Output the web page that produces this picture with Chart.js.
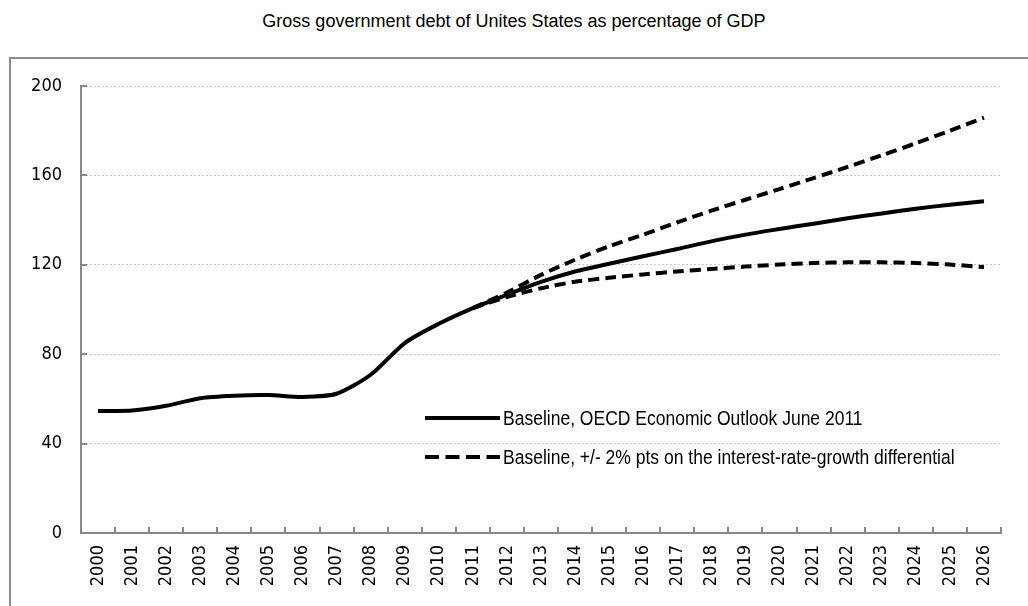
<!DOCTYPE html>
<html>
<head>
<meta charset="utf-8">
<script src="https://cdn.jsdelivr.net/npm/chart.js@4.4.0/dist/chart.umd.min.js"></script>
<style>
  html, body { margin: 0; padding: 0; background: #fff; }
  #page { position: relative; width: 1028px; height: 606px; overflow: hidden; }
  #title {
    position: absolute; left: 0; top: 11px; width: 1028px; text-align: center;
    font-family: "Liberation Sans", Arial, sans-serif; font-size: 18px; line-height: 21px; color: #000;
  }
  #frame {
    position: absolute; left: 9px; top: 57px; width: 1040px; height: 600px;
    border: 2px solid #8c8c8c;
  }
  #chart { position: absolute; left: 0; top: 0; }
  .legend-item {
    position: absolute; left: 424px; height: 24px;
    display: flex; align-items: center; white-space: nowrap;
    font-family: "Liberation Sans", Arial, sans-serif; font-size: 20px; color: #000;
  }
  .legend-item svg { margin-right: 2px; flex: none; }
  .legend-item span { display: inline-block; transform: scaleX(0.875); transform-origin: left center; }
</style>
</head>
<body>
<div id="page">
  <div id="title">Gross government debt of Unites States as percentage of GDP</div>
  <div id="frame"></div>
  <canvas id="chart" width="1028" height="606"></canvas>
  <div id="legend"></div>
</div>
<script>
// ─── DATA ─────────────────────────────────────────────────────
const years = ['2000','2001','2002','2003','2004','2005','2006','2007','2008','2009',
               '2010','2011','2012','2013','2014','2015','2016','2017','2018','2019',
               '2020','2021','2022','2023','2024','2025','2026'];

const baseline = [54.6, 54.8, 56.9, 60.3, 61.4, 61.7, 60.9, 62.3, 70.8, 85.0,
                  93.6, 100.6, 106.6, 112.4, 117.0, 120.5, 123.8, 127.1, 130.5, 133.5,
                  136.0, 138.4, 140.8, 143.0, 145.1, 146.9, 148.4];

const upper = [null, null, null, null, null, null, null, null, null, null,
               null, 100.6, 107.6, 115.5, 122.3, 128.3, 133.5, 139.0, 144.2, 149.1,
               153.9, 158.8, 163.8, 169.0, 174.4, 180.0, 185.8];

const lower = [null, null, null, null, null, null, null, null, null, null,
               null, 100.6, 105.6, 109.5, 112.4, 114.2, 115.7, 117.0, 118.1, 119.2,
               120.1, 120.8, 121.1, 121.1, 120.8, 120.1, 119.0];

const yTicks = [0, 40, 80, 120, 160, 200];

const legendLabels = ['Baseline, OECD Economic Outlook June 2011',
                      'Baseline, +/- 2% pts on the interest-rate-growth differential'];

// ─── LEGEND (html) ────────────────────────────────────────────
const legendTops = [406, 445];
const legendDash = [null, '14 6.5'];
document.getElementById('legend').innerHTML = legendLabels.map((txt, i) => `
  <div class="legend-item" style="top:${legendTops[i]}px">
    <svg width="77" height="8"><line x1="1" y1="4" x2="76" y2="4" stroke="#000" stroke-width="4"
      ${legendDash[i] ? `stroke-dasharray="${legendDash[i]}"` : ''}/></svg><span>${txt}</span>
  </div>`).join('');

// ─── INNER TICK MARKS ─────────────────────────────────────────
const innerTicks = {
  id: 'innerTicks',
  afterDraw(chart) {
    const { ctx, chartArea: a, scales: { x, y } } = chart;
    ctx.save();
    ctx.strokeStyle = '#888';
    ctx.lineWidth = 2;
    ctx.beginPath();
    y.ticks.forEach(t => {
      const py = Math.round(y.getPixelForValue(t.value));
      ctx.moveTo(a.left, py);
      ctx.lineTo(a.left + 6, py);
    });
    for (let i = 0; i <= years.length; i++) {
      const px = Math.round(x.getPixelForValue(i - 0.5));
      ctx.moveTo(px, a.bottom);
      ctx.lineTo(px, a.bottom - 6);
    }
    ctx.stroke();
    ctx.restore();
  }
};

// ─── CHART ────────────────────────────────────────────────────
const tickFont = { family: '"DejaVu Sans Condensed", "Liberation Sans", sans-serif', size: 18 };

const lineStyle = { borderColor: '#000', borderWidth: 4, pointRadius: 0, tension: 0.25, fill: false };

new Chart(document.getElementById('chart'), {
  type: 'line',
  data: {
    labels: years,
    datasets: [
      { label: legendLabels[1], data: upper, ...lineStyle, borderDash: [11, 6] },
      { label: legendLabels[1], data: lower, ...lineStyle, borderDash: [11, 6] },
      { label: legendLabels[0], data: baseline, ...lineStyle },
    ]
  },
  options: {
    responsive: false,
    animation: false,
    devicePixelRatio: 1,
    layout: { padding: { left: 0, right: 27, top: 86, bottom: 0 } },
    plugins: { legend: { display: false }, tooltip: { enabled: false }, title: { display: false } },
    scales: {
      x: {
        offset: true,
        grid: { display: false, drawTicks: false },
        border: { display: true, color: '#888', width: 2 },
        ticks: { color: '#000', font: tickFont, minRotation: 90, maxRotation: 90, padding: 12, autoSkip: false },
        afterFit: s => { s.height = 73; }
      },
      y: {
        min: 0, max: 200,
        afterBuildTicks: s => { s.ticks = yTicks.map(v => ({ value: v })); },
        grid: { color: '#c8c8c8', lineWidth: 1, drawTicks: false },
        border: { display: true, color: '#888', width: 2, dash: [2, 2] },
        ticks: { color: '#000', font: tickFont, padding: 19 },
        afterFit: s => { s.width = 81; }
      }
    }
  },
  plugins: [innerTicks]
});
</script>
</body>
</html>
